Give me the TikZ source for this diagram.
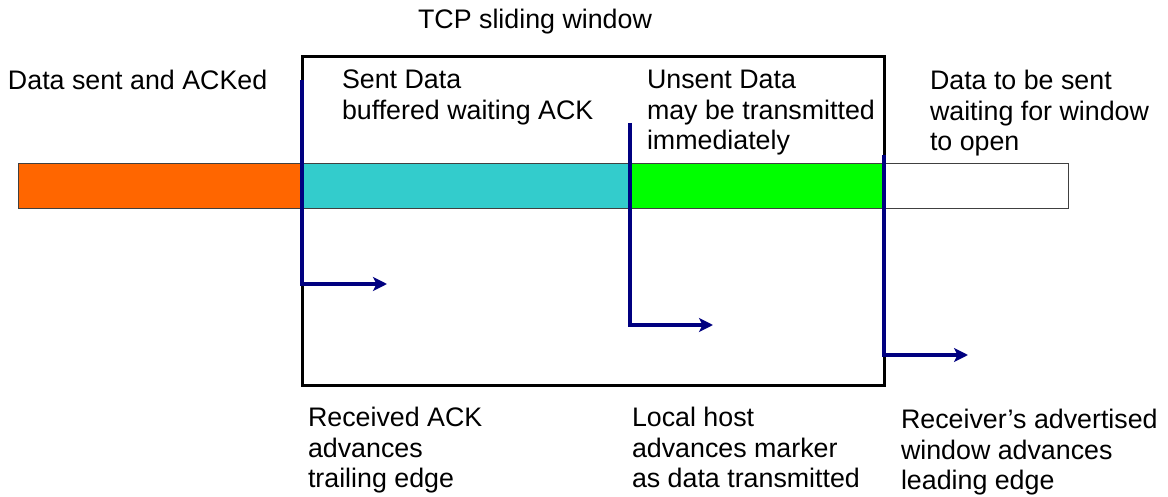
\documentclass[tikz,border=0pt]{standalone}
\usepackage{fontspec}
\setmainfont{Liberation Sans}
\usetikzlibrary{arrows.meta}
\definecolor{ackedcol}{HTML}{FF6600}
\definecolor{sentcol}{HTML}{33CCCC}
\definecolor{unsentcol}{HTML}{00FF00}
\definecolor{markcol}{HTML}{000080}
\definecolor{barline}{HTML}{404040}
\begin{document}
\begin{tikzpicture}[x=1pt,y=-1pt,
  lbl/.style={anchor=north west,inner sep=0pt,outer sep=0pt,align=left,font=\fontsize{26.8}{30.6}\selectfont},
  seg/.style={draw=barline,line width=1pt,anchor=north west,inner sep=0pt,outer sep=0pt,minimum height=45pt},
  windowbox/.style={draw=black,line width=3pt,anchor=north west,inner sep=0pt,outer sep=0pt},
  marker/.style={draw=markcol,line width=3.5pt,-{Stealth[length=14pt,width=14pt,inset=3.5pt]}}]
\useasboundingbox (0,0) rectangle (1168,497);
% window
\node[windowbox,minimum width=582pt,minimum height=328pt] (win) at (302,57) {};
% bar
\node[seg,fill=ackedcol,minimum width=284pt] (acked) at (18,164) {};
\node[seg,fill=sentcol,minimum width=328pt] (sent) at (302,164) {};
\node[seg,fill=unsentcol,minimum width=254pt] (unsent) at (630,164) {};
\node[seg,fill=white,minimum width=184pt] (tosend) at (884,164) {};
% markers
\coordinate (m1a) at (302,80);  \coordinate (m1b) at (387,284);
\coordinate (m2a) at (630,123); \coordinate (m2b) at (713,325);
\coordinate (m3a) at (884,155); \coordinate (m3b) at (968,355);
\draw[marker] (m1a) |- (m1b);
\draw[marker] (m2a) |- (m2b);
\draw[marker] (m3a) |- (m3b);
% texts
\node[lbl,anchor=base] (title) at (535,29) {TCP sliding window};
\node[lbl] (t1) at (8,70) {Data sent and ACKed};
\node[lbl] (t2) at (342,70) {Sent Data\\buffered waiting ACK};
\node[lbl] (t3) at (647,70) {Unsent Data\\may be transmitted\\immediately};
\node[lbl] (t4) at (930,70) {Data to be sent\\waiting for window\\to open};
\node[lbl] (b1) at (308,407) {Received ACK\\advances\\trailing edge};
\node[lbl] (b2) at (632,407) {Local host\\advances marker\\as data transmitted};
\node[lbl] (b3) at (901,409) {Receiver’s advertised\\window advances\\leading edge};
\end{tikzpicture}
\end{document}
